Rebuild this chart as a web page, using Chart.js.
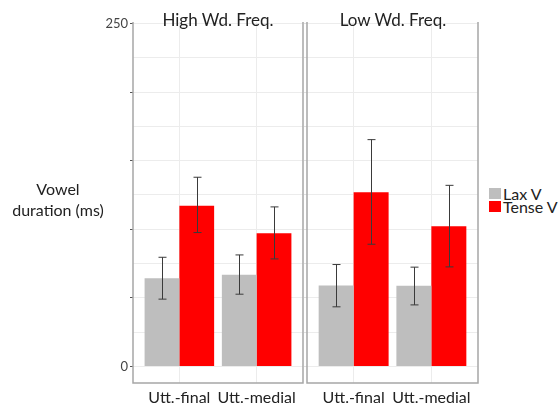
<!DOCTYPE html>
<html>
<head>
<meta charset="utf-8">
<script src="https://cdn.jsdelivr.net/npm/chart.js@4.4.1/dist/chart.umd.min.js"></script>
<style>
  html, body { margin: 0; padding: 0; background: #fff; }
  #wrap { position: relative; width: 559px; height: 405px; overflow: hidden; font-family: Lato, "Open Sans", sans-serif; color: #222; }
  canvas { position: absolute; top: 0; }
  .ptitle { position: absolute; top: 9px; font-size: 17px; white-space: nowrap; transform: translateX(-50%); }
  #ytitle { position: absolute; left: 58px; top: 178px; transform: translateX(-50%); text-align: center; font-size: 16px; line-height: 21px; white-space: nowrap; }
  #legend { position: absolute; left: 489px; top: 187px; font-size: 16px; line-height: 13px; }
  .li { display: flex; align-items: center; height: 13px; }
  .sw { width: 12px; height: 11px; margin-right: 2px; }
</style>
</head>
<body>
<div id="wrap">
  <canvas id="c1" width="304" height="405" style="left:0px"></canvas>
  <canvas id="c2" width="176" height="405" style="left:304px"></canvas>
  <div class="ptitle" id="t1" style="left:218px"></div>
  <div class="ptitle" id="t2" style="left:393px"></div>
  <div id="ytitle">Vowel<br>duration (ms)</div>
  <div id="legend"></div>
</div>
<script>
// ---- data ----
const categories = ['Utt.-final', 'Utt.-medial'];
const panelTitles = ['High Wd. Freq.', 'Low Wd. Freq.'];
const seriesNames = ['Lax V', 'Tense V'];
const seriesColors = ['#bebebe', '#ff0000'];

const laxHigh = [64.4, 66.8];
const laxHighLo = [49.1, 52.7];
const laxHighHi = [79.6, 81.3];
const tenseHigh = [117.2, 97.1];
const tenseHighLo = [97.6, 78.4];
const tenseHighHi = [137.9, 116.3];

const laxLow = [59.0, 58.8];
const laxLowLo = [43.5, 44.9];
const laxLowHi = [74.3, 72.4];
const tenseLow = [126.9, 102.2];
const tenseLowLo = [89.1, 72.6];
const tenseLowHi = [165.3, 132.0];

const yTicks = [0, 25, 50, 75, 100, 125, 150, 175, 200, 225, 250];
const yTickLabels = { 0: '0', 250: '250' };

// ---- helpers ----
const FONT = 'Lato, "Open Sans", sans-serif';
const frameColor = '#a6a6a6';
const gridColor = '#ececec';

const errorBars = {
  id: 'errorBars',
  afterDatasetsDraw(chart) {
    const ctx = chart.ctx, ys = chart.scales.y;
    ctx.save();
    ctx.strokeStyle = '#3a3a3a';
    ctx.lineWidth = 1;
    chart.data.datasets.forEach((ds, di) => {
      const meta = chart.getDatasetMeta(di);
      meta.data.forEach((el, i) => {
        const x = Math.round(el.x) + 0.5;
        const y1 = ys.getPixelForValue(ds.errLo[i]);
        const y2 = ys.getPixelForValue(ds.errHi[i]);
        ctx.beginPath();
        ctx.moveTo(x, y1); ctx.lineTo(x, y2);
        ctx.moveTo(x - 4, y1); ctx.lineTo(x + 4, y1);
        ctx.moveTo(x - 4, y2); ctx.lineTo(x + 4, y2);
        ctx.stroke();
      });
    });
    ctx.restore();
  }
};

const frame = {
  id: 'frame',
  afterDraw(chart) {
    const a = chart.chartArea, ctx = chart.ctx;
    ctx.save();
    ctx.strokeStyle = frameColor;
    ctx.lineWidth = 1.5;
    ctx.beginPath();
    ctx.moveTo(a.left, a.top); ctx.lineTo(a.left, a.bottom);
    ctx.lineTo(a.right, a.bottom); ctx.lineTo(a.right, a.top);
    ctx.stroke();
    ctx.restore();
  }
};

function makePanel(id, lax, laxLo, laxHi, tense, tenseLo, tenseHi, first) {
  const toXY = arr => arr.map((v, i) => ({ x: i + 1, y: v }));
  return new Chart(document.getElementById(id), {
    type: 'bar',
    data: {
      datasets: [
        { label: seriesNames[0], data: toXY(lax), errLo: laxLo, errHi: laxHi, backgroundColor: seriesColors[0] },
        { label: seriesNames[1], data: toXY(tense), errLo: tenseLo, errHi: tenseHi, backgroundColor: seriesColors[1] }
      ]
    },
    options: {
      responsive: false,
      animation: false,
      categoryPercentage: 0.9,
      barPercentage: 1.0,
      borderWidth: 0,
      layout: { padding: first ? { left: 100, right: 1, top: 22, bottom: 0 } : { left: 0, right: 2, top: 22, bottom: 0 } },
      plugins: { legend: { display: false }, tooltip: { enabled: false }, title: { display: false } },
      scales: {
        x: {
          type: 'linear',
          min: 0.4, max: 2.6,
          offset: false,
          afterBuildTicks: s => { s.ticks = categories.map((c, i) => ({ value: i + 1 })); },
          afterFit: s => { s.height = 22; },
          grid: { color: gridColor, offset: false, drawTicks: false },
          border: { display: false },
          ticks: {
            callback: v => categories[v - 1] ?? '',
            color: '#222', font: { family: FONT, size: 16 }, padding: 5, maxRotation: 0, autoSkip: false
          }
        },
        y: {
          min: -12, max: 251,
          afterBuildTicks: s => { s.ticks = yTicks.map(v => ({ value: v })); },
          afterFit: s => { s.width = first ? 33 : 3; },
          grid: {
            color: gridColor, tickLength: 3,
            tickColor: c => first ? (c.tick && c.tick.value % 50 === 0 ? '#555' : 'rgba(0,0,0,0)') : '#e0e0e0'
          },
          border: { display: false },
          ticks: {
            display: first,
            callback: v => yTickLabels[v] ?? '',
            color: '#444', font: { family: FONT, size: 13 }, padding: 2, autoSkip: false
          }
        }
      }
    },
    plugins: [errorBars, frame]
  });
}

makePanel('c1', laxHigh, laxHighLo, laxHighHi, tenseHigh, tenseHighLo, tenseHighHi, true);
makePanel('c2', laxLow, laxLowLo, laxLowHi, tenseLow, tenseLowLo, tenseLowHi, false);

document.getElementById('t1').textContent = panelTitles[0];
document.getElementById('t2').textContent = panelTitles[1];
const lg = document.getElementById('legend');
seriesNames.forEach((n, i) => {
  const row = document.createElement('div'); row.className = 'li';
  const sw = document.createElement('div'); sw.className = 'sw'; sw.style.background = seriesColors[i];
  const tx = document.createElement('span'); tx.textContent = n;
  row.appendChild(sw); row.appendChild(tx); lg.appendChild(row);
});
</script>
</body>
</html>
